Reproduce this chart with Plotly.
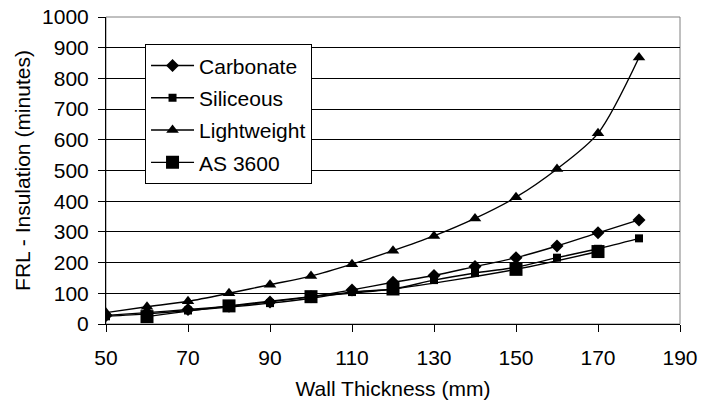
import plotly.graph_objects as go

thickness = [50, 60, 70, 80, 90, 100, 110, 120, 130, 140, 150, 160, 170, 180]
carbonate = [28, 37, 47, 58, 72, 89, 111, 136, 158, 187, 216, 254, 297, 339]
siliceous = [25, 33, 44, 55, 68, 84, 104, 114, 143, 166, 185, 216, 245, 279]
lightweight = [37, 56, 74, 100, 128, 156, 195, 239, 287, 344, 413, 505, 621, 868]
as3600_x = [60, 80, 100, 120, 150, 170]
as3600_y = [24, 59, 89, 114, 178, 236]

FONT = "Arial, 'Liberation Sans', sans-serif"
FS = 21

fig = go.Figure()

def add(name, x, y, symbol, size):
    fig.add_trace(go.Scatter(
        x=x, y=y, name=name, mode="lines+markers",
        line=dict(color="black", width=1.4, shape="spline", smoothing=0.8),
        marker=dict(symbol=symbol, size=size, color="black"),
        legendgroup=name,
    ))

add("Carbonate", thickness, carbonate, "diamond", 10)
add("Siliceous", thickness, siliceous, "square", 8)
add("Lightweight", thickness, lightweight, "triangle-up", 11)
add("AS 3600", as3600_x, as3600_y, "square", 13)

fig.update_layout(
    width=715, height=400,
    margin=dict(l=106, r=35, t=17, b=76),
    paper_bgcolor="white", plot_bgcolor="white",
    font=dict(family=FONT, size=FS, color="black"),
    showlegend=True,
    legend=dict(
        x=0.068, y=0.911, xanchor="left", yanchor="top",
        bgcolor="white", bordercolor="black", borderwidth=1,
        font=dict(family=FONT, size=FS, color="black"),
        traceorder="grouped", tracegroupgap=2, itemwidth=43,
    ),
    xaxis=dict(
        range=[50, 190], dtick=20, tick0=50,
        showgrid=False, zeroline=False, automargin=False,
        showline=True, linecolor="black", linewidth=1,
        ticks="outside", ticklen=7, tickcolor="black",
        ticklabelstandoff=8,
        tickfont=dict(family=FONT, size=FS),
        title=dict(text="Wall Thickness (mm)", font=dict(family=FONT, size=FS), standoff=13),
    ),
    yaxis=dict(
        range=[0, 1000], dtick=100, automargin=False,
        showgrid=True, gridcolor="black", gridwidth=1,
        zeroline=False,
        showline=True, linecolor="black", linewidth=1,
        ticks="outside", ticklen=7, tickcolor="black",
        ticklabelstandoff=5,
        tickfont=dict(family=FONT, size=FS),
        title=dict(text="FRL - Insulation (minutes)", font=dict(family=FONT, size=FS), standoff=5),
    ),
    shapes=[dict(type="rect", xref="paper", yref="paper", x0=0, y0=0, x1=1, y1=1,
                 line=dict(color="#808080", width=1), layer="below")],
)

fig.write_html("out.html")
